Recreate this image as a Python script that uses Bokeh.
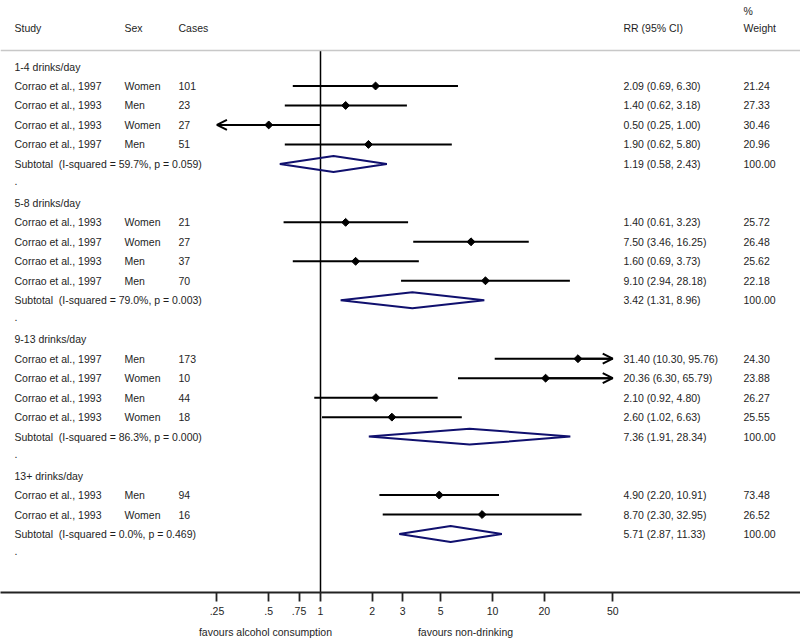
import math
from bokeh.plotting import figure
from bokeh.models import (Range1d, FixedTicker, CustomJSTickFormatter, Span, LogAxis,
                          Arrow, OpenHead, ColumnDataSource)
from bokeh.core.properties import value
from bokeh.embed import file_html
from bokeh.resources import INLINE

# ---------------- data ----------------
groups = ["1-4 drinks/day", "5-8 drinks/day", "9-13 drinks/day", "13+ drinks/day"]
study_group = [0, 0, 0, 0, 1, 1, 1, 1, 2, 2, 2, 2, 3, 3]
study_name = ["Corrao et al., 1997", "Corrao et al., 1993", "Corrao et al., 1993", "Corrao et al., 1997",
              "Corrao et al., 1993", "Corrao et al., 1997", "Corrao et al., 1993", "Corrao et al., 1997",
              "Corrao et al., 1997", "Corrao et al., 1997", "Corrao et al., 1993", "Corrao et al., 1993",
              "Corrao et al., 1993", "Corrao et al., 1993"]
study_sex = ["Women", "Men", "Women", "Men",
             "Women", "Women", "Men", "Men",
             "Men", "Women", "Men", "Women",
             "Men", "Women"]
study_cases = [101, 23, 27, 51, 21, 27, 37, 70, 173, 10, 44, 18, 94, 16]
study_rr = [2.09, 1.40, 0.50, 1.90, 1.40, 7.50, 1.60, 9.10, 31.40, 20.36, 2.10, 2.60, 4.90, 8.70]
study_lo = [0.69, 0.62, 0.25, 0.62, 0.61, 3.46, 0.69, 2.94, 10.30, 6.30, 0.92, 1.02, 2.20, 2.30]
study_hi = [6.30, 3.18, 1.00, 5.80, 3.23, 16.25, 3.73, 28.18, 95.76, 65.79, 4.80, 6.63, 10.91, 32.95]
study_weight = [21.24, 27.33, 30.46, 20.96, 25.72, 26.48, 25.62, 22.18,
                24.30, 23.88, 26.27, 25.55, 73.48, 26.52]
sub_rr = [1.19, 3.42, 7.36, 5.71]
sub_lo = [0.58, 1.31, 1.91, 2.87]
sub_hi = [2.43, 8.96, 28.34, 11.33]
sub_i2 = [59.7, 79.0, 86.3, 0.0]
sub_p = [0.059, 0.003, 0.000, 0.469]
tick_values = [0.25, 0.5, 0.75, 1, 2, 3, 5, 10, 20, 50]
tick_labels = [".25", ".5", ".75", "1", "2", "3", "5", "10", "20", "50"]
clip_lo, clip_hi = 0.25, 50
null_value = 1
header_labels = ["Study", "Sex", "Cases", "RR (95% CI)", "Weight"]
axis_notes = ["favours alcohol consumption", "favours non-drinking"]

# ---------------- layout ----------------
W, H = 800, 642
AXIS_H = 50
ROW_PX = 19.48
ROW0_PX = 66.0
X1_PX = 320.0
DEC_PX = 172.0
y_top = -ROW0_PX / ROW_PX
y_bot = (H - AXIS_H - ROW0_PX) / ROW_PX
x_start = 10 ** (-X1_PX / DEC_PX)
x_end = 10 ** ((W - X1_PX) / DEC_PX)


def px_x(px):
    return 10 ** ((px - X1_PX) / DEC_PX)


def px_row(py):
    return (py - ROW0_PX) / ROW_PX


COL_STUDY, COL_SEX, COL_CASES, COL_RR, COL_WT = (px_x(14), px_x(124), px_x(178),
                                                 px_x(623), px_x(743))
NOTE_X = [px_x(265), px_x(465)]
FONT = value("Liberation Sans")
FS = "10.5px"
TXT = "#1e1e1e"
NAVY = "#10106e"

# build rows
t_x, t_y, t_s = [], [], []
ci_x0, ci_x1, ci_y, pt_x, pt_y = [], [], [], [], []
arr = dict(xs=[], ys=[], xe=[], ye=[])
dia_xs, dia_ys = [], []
r = 0
for g, gname in enumerate(groups):
    t_x.append(COL_STUDY); t_y.append(r); t_s.append(gname)
    r += 1
    for i, gi in enumerate(study_group):
        if gi != g:
            continue
        t_x += [COL_STUDY, COL_SEX, COL_CASES, COL_RR, COL_WT]
        t_y += [r] * 5
        t_s += [study_name[i], study_sex[i], str(study_cases[i]),
                f"{study_rr[i]:.2f} ({study_lo[i]:.2f}, {study_hi[i]:.2f})",
                f"{study_weight[i]:.2f}"]
        lo = max(study_lo[i], clip_lo)
        hi = min(study_hi[i], clip_hi)
        ci_x0.append(lo); ci_x1.append(hi); ci_y.append(r)
        pt_x.append(study_rr[i]); pt_y.append(r)
        if study_lo[i] <= clip_lo:
            arr["xs"].append(study_rr[i]); arr["ys"].append(r)
            arr["xe"].append(clip_lo); arr["ye"].append(r)
        if study_hi[i] >= clip_hi:
            arr["xs"].append(study_rr[i]); arr["ys"].append(r)
            arr["xe"].append(clip_hi); arr["ye"].append(r)
        r += 1
    t_x += [COL_STUDY, COL_RR, COL_WT]
    t_y += [r] * 3
    t_s += [f"Subtotal\u00a0 (I-squared = {sub_i2[g]:.1f}%, p = {sub_p[g]:.3f})",
            f"{sub_rr[g]:.2f} ({sub_lo[g]:.2f}, {sub_hi[g]:.2f})", "100.00"]
    h = 0.41
    dia_xs.append([sub_lo[g], sub_rr[g], sub_hi[g], sub_rr[g]])
    dia_ys.append([r, r - h, r, r + h])
    r += 1
    t_x.append(COL_STUDY); t_y.append(r - 0.12); t_s.append(".")
    r += 1

# headers
hdr_y = px_row(27)
for xx, s in zip([COL_STUDY, COL_SEX, COL_CASES, COL_RR, COL_WT], header_labels):
    t_x.append(xx); t_y.append(hdr_y); t_s.append(s)
t_x.append(COL_WT); t_y.append(px_row(10)); t_s.append("%")

header_line_y = px_row(50)

# ---------------- figure ----------------
p = figure(width=W, height=H, x_axis_type="log",
           x_range=Range1d(x_start, x_end), y_range=Range1d(y_bot, y_top),
           output_backend="svg", toolbar_location=None,
           min_border_left=0, min_border_right=0, min_border_top=0,
           min_border_bottom=AXIS_H)
p.outline_line_color = None
p.grid.visible = False
p.yaxis.visible = False
p.background_fill_color = "white"
p.border_fill_color = "white"

ax = p.xaxis[0]
ax.ticker = FixedTicker(ticks=tick_values, minor_ticks=[])
ax.formatter = CustomJSTickFormatter(
    args=dict(tvals=tick_values, tlabs=tick_labels),
    code="const i = tvals.indexOf(tick); return i >= 0 ? tlabs[i] : String(tick);")
ax.axis_line_width = 1.8
ax.axis_line_color = "#222222"
ax.major_tick_line_width = 1.8
ax.major_tick_line_color = "#222222"
ax.major_tick_out = 9
ax.major_tick_in = 0
ax.minor_tick_out = 0
ax.minor_tick_in = 0
ax.major_label_standoff = 5
ax.major_label_text_font = "Liberation Sans"
ax.major_label_text_font_size = FS
ax.major_label_text_color = TXT
ax.major_label_text_font_style = "normal"

# second (label-only) axis for the "favours ..." notes
note_axis = LogAxis(
    ticker=FixedTicker(ticks=NOTE_X, minor_ticks=[]),
    formatter=CustomJSTickFormatter(
        args=dict(nx=NOTE_X, nt=axis_notes),
        code="const i = nx.indexOf(tick); return i >= 0 ? nt[i] : '';"),
    axis_line_color=None, major_tick_line_color=None, minor_tick_line_color=None,
    major_tick_out=0, major_tick_in=0, minor_tick_out=0, minor_tick_in=0,
    major_label_standoff=8,
    major_label_text_font="Liberation Sans", major_label_text_font_size=FS,
    major_label_text_color=TXT, major_label_text_font_style="normal")
p.add_layout(note_axis, "below")

# header separator
p.add_layout(Span(location=header_line_y, dimension="width",
                  line_color="#c8c8c8", line_width=1.5))

# null line
p.segment(x0=[null_value], y0=[header_line_y], x1=[null_value], y1=[y_bot],
          line_color="black", line_width=1.5)

# CI lines
p.segment(x0=ci_x0, y0=ci_y, x1=ci_x1, y1=ci_y, line_color="black", line_width=2)
p.add_layout(Arrow(end=OpenHead(size=10, line_width=2, line_color="black"),
                   x_start="xs", y_start="ys", x_end="xe", y_end="ye",
                   line_width=2, line_color="black",
                   source=ColumnDataSource(arr)))
p.scatter(pt_x, pt_y, marker="square", angle=math.pi / 4, size=5.6,
          fill_color="black", line_color="black")

# subtotal diamonds
p.patches(dia_xs, dia_ys, fill_alpha=0, line_color=NAVY, line_width=2)

# texts
p.text(x=t_x, y=t_y, text=t_s, text_font=FONT, text_font_size=FS,
       text_color=TXT, text_baseline="middle", text_align="left")

open("out.html", "w").write(file_html(p, INLINE))
